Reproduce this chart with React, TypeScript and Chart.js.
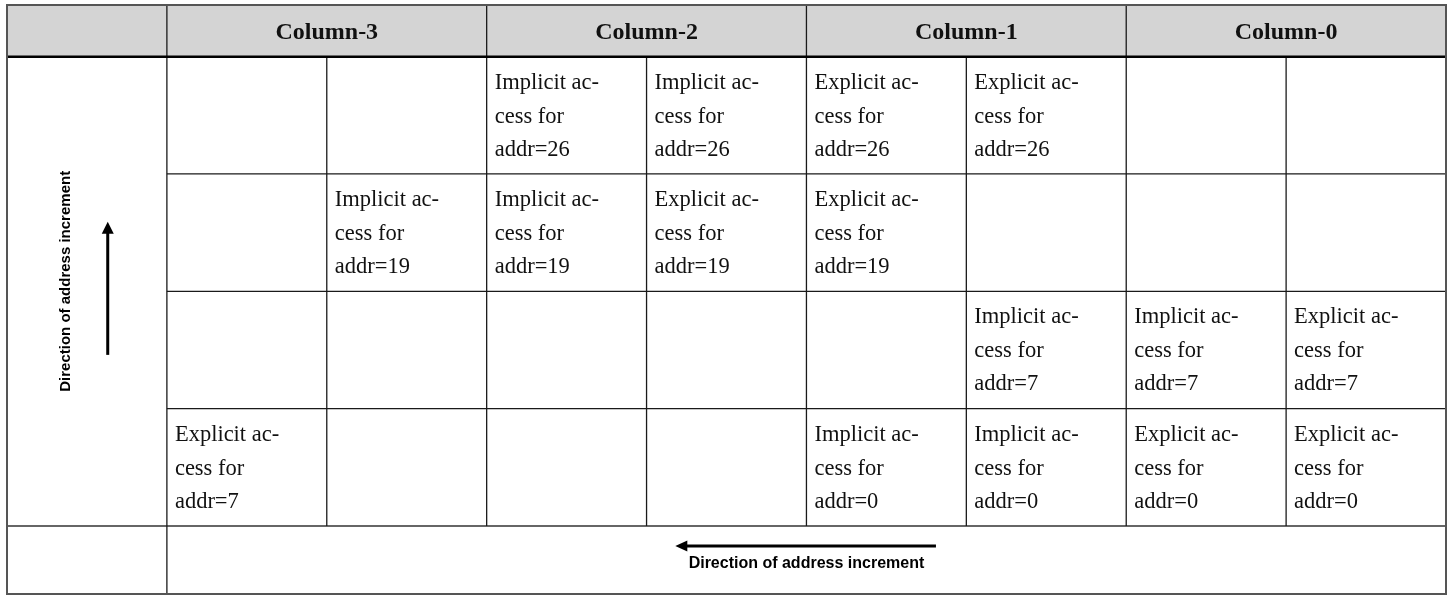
import React, { useEffect, useRef } from "react";
import { Chart, registerables } from "chart.js";

Chart.register(...registerables);

// Column group headers (left to right)
const columnHeaders = ["Column-3", "Column-2", "Column-1", "Column-0"];

// Cell contents, one array per table row (top to bottom), eight sub-columns each.
// Each entry: "<Kind> <addr>" or "" for an empty cell.
const row1 = ["", "", "Implicit 26", "Implicit 26", "Explicit 26", "Explicit 26", "", ""];
const row2 = ["", "Implicit 19", "Implicit 19", "Explicit 19", "Explicit 19", "", "", ""];
const row3 = ["", "", "", "", "", "Implicit 7", "Implicit 7", "Explicit 7"];
const row4 = ["Explicit 7", "", "", "", "Implicit 0", "Implicit 0", "Explicit 0", "Explicit 0"];
const tableRows = [row1, row2, row3, row4];

const arrowLabel = "Direction of address increment";

// Layout in scale units (x: one unit per column, y: one unit per data row)
const ROW_EDGES = [0, 0.44, 1.44, 2.44, 3.44, 4.44, 5.02];
const X_MAX = 9;

function cellLines(v: string): string[] {
  const [kind, addr] = v.split(" ");
  return [`${kind} ac-`, "cess for", `addr=${addr}`];
}

const tablePlugin = {
  id: "tableDraw",
  afterDatasetsDraw(chart: any) {
    const ctx: CanvasRenderingContext2D = chart.ctx;
    const xs = chart.scales.x;
    const ys = chart.scales.y;
    const X = (v: number) => xs.getPixelForValue(v);
    const Y = (v: number) => ys.getPixelForValue(v);
    const top = ROW_EDGES[0];
    const bottom = ROW_EDGES[ROW_EDGES.length - 1];
    const headBottom = ROW_EDGES[1];
    const dataBottom = ROW_EDGES[ROW_EDGES.length - 2];

    ctx.save();
    // header background
    ctx.fillStyle = "#d4d4d4";
    ctx.fillRect(X(0), Y(top), X(X_MAX) - X(0), Y(headBottom) - Y(top));

    const line = (x1: number, y1: number, x2: number, y2: number, w: number, c: string) => {
      ctx.beginPath();
      ctx.strokeStyle = c;
      ctx.lineWidth = w;
      ctx.moveTo(x1, y1);
      ctx.lineTo(x2, y2);
      ctx.stroke();
    };

    const inner = "#1a1a1a";
    // horizontal row lines in data area (first column is one merged cell)
    for (let r = 2; r < ROW_EDGES.length - 2; r++) {
      line(X(1), Y(ROW_EDGES[r]), X(X_MAX), Y(ROW_EDGES[r]), 1.3, inner);
    }
    // bottom line of last data row
    line(X(0), Y(dataBottom), X(X_MAX), Y(dataBottom), 1.6, "#333");
    // group vertical lines (full height of header + data)
    for (let g = 0; g <= columnHeaders.length; g++) {
      const xv = 1 + g * 2;
      if (xv >= X_MAX) continue;
      const yEnd = g === 0 ? bottom : dataBottom;
      line(X(xv), Y(top), X(xv), Y(yEnd), 1.3, inner);
    }
    // sub-column lines (data rows only)
    for (let g = 0; g < columnHeaders.length; g++) {
      const xv = 2 + g * 2;
      line(X(xv), Y(headBottom), X(xv), Y(dataBottom), 1.3, inner);
    }
    // header bottom thick line
    line(X(0), Y(headBottom), X(X_MAX), Y(headBottom), 2.5, "#000");
    // outer border
    ctx.strokeStyle = "#555";
    ctx.lineWidth = 2;
    ctx.strokeRect(X(0), Y(top), X(X_MAX) - X(0), Y(bottom) - Y(top));

    // header texts
    ctx.fillStyle = "#111";
    ctx.font = "bold 24px 'Liberation Serif'";
    ctx.textAlign = "center";
    ctx.textBaseline = "alphabetic";
    columnHeaders.forEach((h, g) => {
      const cx = X(1 + g * 2 + 1);
      const cy = (Y(top) + Y(headBottom)) / 2 + 8.5;
      ctx.fillText(h, cx, cy);
    });

    // cell texts
    ctx.font = "22.5px 'Liberation Serif'";
    ctx.textAlign = "left";
    tableRows.forEach((row, r) => {
      const rowTop = Y(ROW_EDGES[r + 1]);
      row.forEach((v, c) => {
        if (!v) return;
        const lines = cellLines(v);
        const x0 = X(1 + c) + 8;
        const offs = [32, 66, 99];
        lines.forEach((t, i) => ctx.fillText(t, x0, rowTop + offs[i]));
      });
    });

    // vertical arrow + label in first column
    ctx.fillStyle = "#000";
    ctx.strokeStyle = "#000";
    const ax = X(0.63);
    const ayTop = Y(1.847);
    const ayBot = Y(2.982);
    line(ax, ayBot, ax, ayTop + 10, 3, "#000");
    ctx.beginPath();
    ctx.moveTo(ax, ayTop);
    ctx.lineTo(ax - 6, ayTop + 12);
    ctx.lineTo(ax + 6, ayTop + 12);
    ctx.closePath();
    ctx.fill();

    ctx.save();
    ctx.translate(X(0.37), Y(2.355));
    ctx.rotate(-Math.PI / 2);
    ctx.font = "bold 15px 'Liberation Sans'";
    ctx.textAlign = "center";
    ctx.textBaseline = "middle";
    ctx.fillText(arrowLabel, 0, 0);
    ctx.restore();

    // horizontal arrow + label in bottom row
    const hy = Y(4.61);
    const hxL = X(4.18);
    const hxR = X(5.81);
    line(hxL + 10, hy, hxR, hy, 3, "#000");
    ctx.beginPath();
    ctx.moveTo(hxL, hy);
    ctx.lineTo(hxL + 12, hy - 5.5);
    ctx.lineTo(hxL + 12, hy + 5.5);
    ctx.closePath();
    ctx.fill();
    ctx.font = "bold 16px 'Liberation Sans'";
    ctx.textAlign = "center";
    ctx.textBaseline = "alphabetic";
    ctx.fillText(arrowLabel, X(5.0), Y(4.8));

    ctx.restore();
  },
};

export default function App() {
  const canvasRef = useRef<HTMLCanvasElement | null>(null);

  useEffect(() => {
    if (!canvasRef.current) return;
    const chart = new Chart(canvasRef.current, {
      type: "scatter",
      data: {
        datasets: [
          {
            data: tableRows.flatMap((row, r) =>
              row.map((_, c) => ({ x: 1.5 + c, y: ROW_EDGES[r + 1] + 0.5 }))
            ),
            pointRadius: 0,
            pointHoverRadius: 0,
          },
        ],
      },
      options: {
        animation: false,
        responsive: true,
        maintainAspectRatio: false,
        events: [],
        layout: { padding: { left: 7, right: 4, top: 5, bottom: 2 } },
        plugins: { legend: { display: false }, tooltip: { enabled: false } },
        scales: {
          x: { type: "linear", min: 0, max: X_MAX, display: false },
          y: {
            type: "linear",
            min: ROW_EDGES[0],
            max: ROW_EDGES[ROW_EDGES.length - 1],
            reverse: true,
            display: false,
          },
        },
      },
      plugins: [tablePlugin],
    });
    return () => chart.destroy();
  }, []);

  return (
    <div
      style={{
        position: "absolute",
        left: 0,
        top: 0,
        width: 1450,
        height: 596,
        background: "#fff",
      }}
    >
      <canvas ref={canvasRef} />
    </div>
  );
}
